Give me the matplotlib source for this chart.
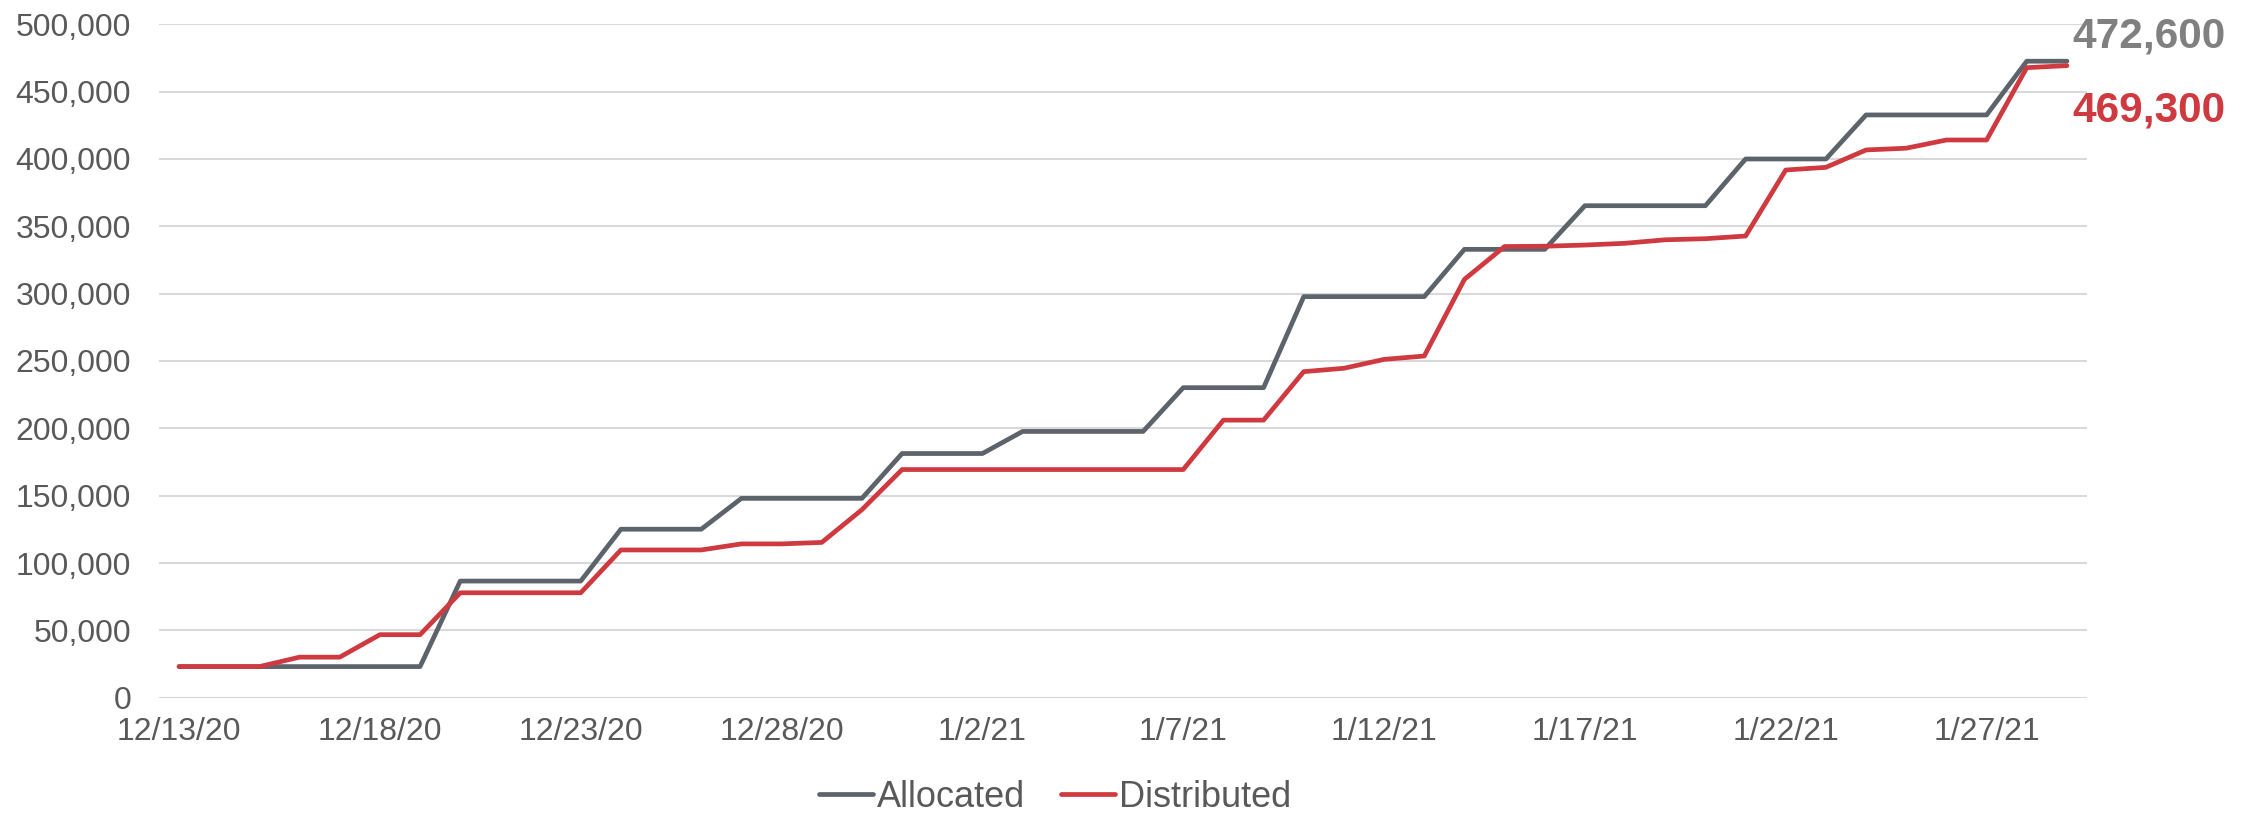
import matplotlib
matplotlib.use("Agg")
import matplotlib.pyplot as plt
import pandas as pd

plt.rcParams['font.family'] = ['Liberation Sans', 'DejaVu Sans']

dates = pd.date_range("2020-12-13", "2021-01-29", freq="D")
date_labels = [f"{d.month}/{d.day}/{d.strftime('%y')}" for d in dates]

allocated = [23100]*7 + [86600]*4 + [125100]*3 + [148000]*4 + [181300]*3 + \
            [197700]*4 + [230200]*3 + [297800]*4 + [332900]*3 + [365300]*4 + \
            [400000]*3 + [432700]*4 + [472600]*2
distributed = [23100, 23100, 23100, 30100, 30100, 46800, 46800, 77900, 77900, 77900,
               77900, 109700, 109700, 109700, 114200, 114200, 115300, 139600, 169400, 169400,
               169400, 169400, 169400, 169400, 169400, 169400, 206100, 206100, 242100, 244600,
               251200, 253700, 310600, 335000, 335200, 336100, 337400, 340000, 340800, 342800,
               391800, 393800, 406700, 408000, 414100, 414100, 467800, 469300]
series_names = ["Allocated", "Distributed"]
end_labels = ["472,600", "469,300"]
yticks = list(range(0, 500001, 50000))

c_alloc = "#5D636B"
c_dist = "#CF3A40"
c_text = "#595959"

fig = plt.figure(figsize=(22.54, 8.15), dpi=100)
ax = fig.add_axes([159/2254, 1-697.7/815, 1928/2254, (697.7-24.3)/815])

x = list(range(len(date_labels)))
ax.plot(x, allocated, color=c_alloc, lw=3.4, label=series_names[0],
        solid_joinstyle='round', solid_capstyle='round', zorder=3)
ax.plot(x, distributed, color=c_dist, lw=3.4, label=series_names[1],
        solid_joinstyle='round', solid_capstyle='round', zorder=4)

ax.set_xlim(-0.5, len(x) - 0.5)
ax.set_ylim(0, 500000)
ax.set_yticks(yticks)
ax.set_yticklabels([f"{v:,}" for v in yticks])
ax.set_xticks(x[::5])
ax.set_xticklabels(date_labels[::5])
ax.tick_params(axis='both', length=0, labelsize=23, labelcolor=c_text)
ax.tick_params(axis='y', pad=20)
ax.tick_params(axis='x', pad=14)
ax.grid(axis='y', color='#D9D9D9', lw=1.5)
ax.set_axisbelow(True)
for s in ax.spines.values():
    s.set_visible(False)

ax.annotate(end_labels[0], xy=(x[-1], allocated[-1]), xytext=(5, 25), textcoords='offset pixels',
            ha='left', va='center', fontsize=30.5, fontweight='bold', color='#808080', annotation_clip=False)
ax.annotate(end_labels[1], xy=(x[-1], distributed[-1]), xytext=(5, -45), textcoords='offset pixels',
            ha='left', va='center', fontsize=30.5, fontweight='bold', color=c_dist, annotation_clip=False)

leg = fig.legend(loc='center', bbox_to_anchor=(0.468, 0.022), ncol=2, frameon=False, fontsize=26,
                 handlelength=1.5, handletextpad=0.1, columnspacing=1.0, borderpad=0,
                 labelcolor=c_text)
for h in leg.get_lines():
    h.set_solid_capstyle('round')

fig.savefig("out.png", dpi=100, facecolor='white')
